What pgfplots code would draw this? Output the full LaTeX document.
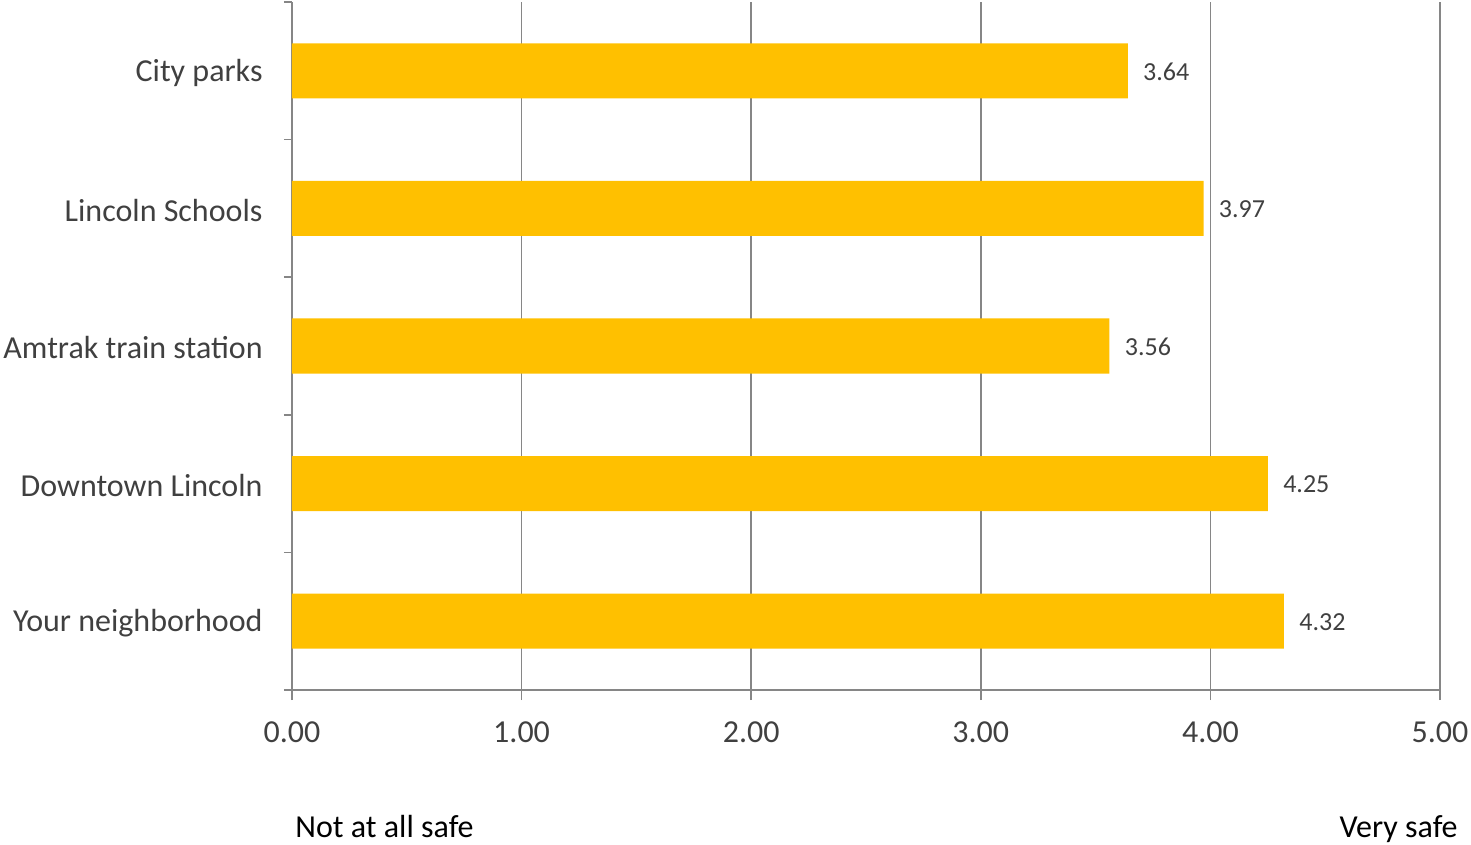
\documentclass[border=0pt]{standalone}
\usepackage{fontspec}
\setmainfont{Carlito}
\usepackage{pgfplots}
\pgfplotsset{compat=1.18}
\definecolor{barc}{HTML}{FFC000}
\definecolor{gridc}{RGB}{134,134,134}
\definecolor{txt}{HTML}{404040}
\begin{document}
\begin{tikzpicture}
\useasboundingbox (-146pt,-77.5pt) rectangle (589.5pt,345pt);
\begin{axis}[
  at={(0,0)}, anchor=south west,
  scale only axis, width=574pt, height=344pt,
  xbar, bar width=0.4, bar shift=0pt,
  xmin=0, xmax=5, ymin=-0.5, ymax=4.5,
  clip=false,
  axis x line*=bottom, axis y line*=left,
  axis line style={draw=gridc, line width=0.75pt},
  xtick={0,1,2,3,4,5},
  xmajorgrids, grid style={draw=gridc, line width=0.75pt},
  ytick={0,1,2,3,4},
  yticklabels={Your neighborhood, Downtown Lincoln, Amtrak train station, Lincoln Schools, City parks},
  minor ytick={-0.5,0.5,1.5,2.5,3.5,4.5},
  tick align=outside,
  major tick length=5pt, minor tick length=4pt,
  tick style={draw=gridc, line width=0.75pt},
  major y tick style={draw=none},
  ticklabel style={font=\fontsize{16}{19}\selectfont, text=txt},
  xticklabel style={yshift=-7.2pt},
  yticklabel style={xshift=-6.2pt, yshift=-1pt},
  /pgf/number format/.cd, fixed, fixed zerofill, precision=2, assume math mode=true,
  /pgfplots/.cd,
  nodes near coords,
  every node near coord/.append style={font=\fontsize{13}{15}\selectfont, text=txt, xshift=4.2pt, yshift=-0.5pt},
]
\addplot[fill=barc, draw=none] coordinates {(4.32,0) (4.25,1) (3.56,2) (3.97,3) (3.64,4)};
\node[anchor=base west, inner sep=0pt, font=\fontsize{16}{19}\selectfont, xshift=1.5pt, yshift=-73.5pt] at (rel axis cs:0,0) {Not at all safe};
\node[anchor=base east, inner sep=0pt, font=\fontsize{16}{19}\selectfont, xshift=9pt, yshift=-73.5pt] at (rel axis cs:1,0) {Very safe};
\end{axis}
\end{tikzpicture}
\end{document}
